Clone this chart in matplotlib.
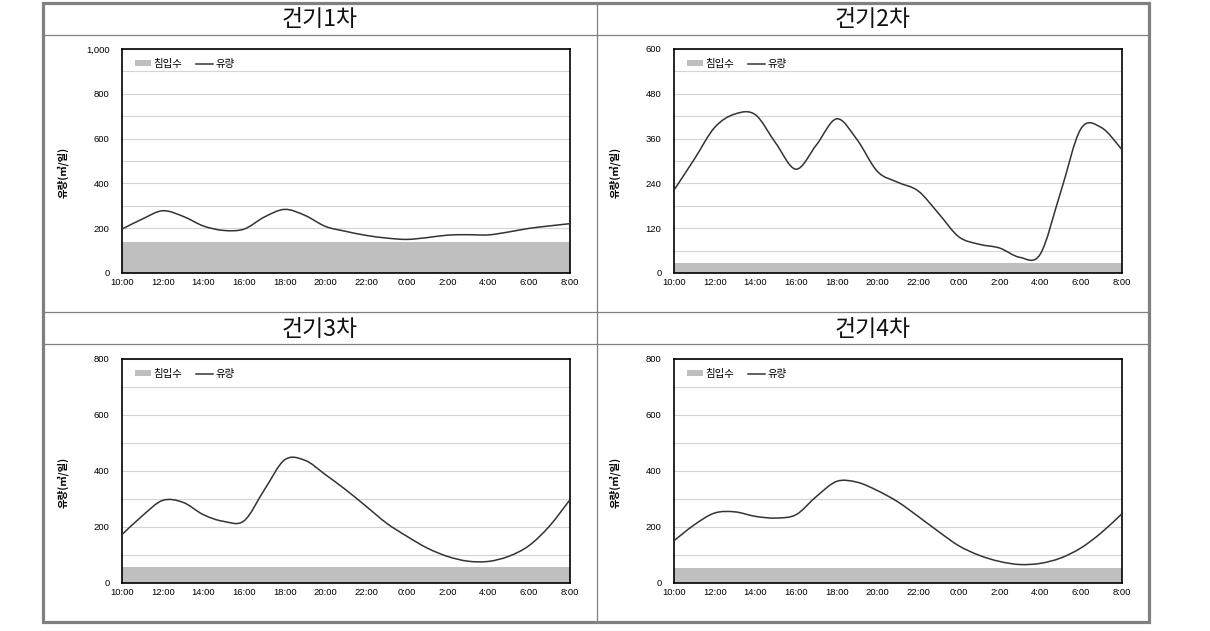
import numpy as np
import matplotlib
matplotlib.use('Agg')
import matplotlib.pyplot as plt
from matplotlib.path import Path
from matplotlib.patches import PathPatch, Patch, Rectangle
from matplotlib.lines import Line2D

plt.rcParams['font.family'] = ['Noto Sans CJK KR', 'DejaVu Sans']

# ---------------- data ----------------
hour_labels = ['10:00', '11:00', '12:00', '13:00', '14:00', '15:00', '16:00', '17:00',
               '18:00', '19:00', '20:00', '21:00', '22:00', '23:00', '0:00', '1:00',
               '2:00', '3:00', '4:00', '5:00', '6:00', '7:00', '8:00']
tick_labels = ['10:00', '12:00', '14:00', '16:00', '18:00', '20:00', '22:00',
               '0:00', '2:00', '4:00', '6:00', '8:00']
titles = ['건기1차', '건기2차', '건기3차', '건기4차']

flow1 = [196, 241, 278, 253, 210, 190, 196, 250, 284, 257, 208, 186, 168, 156, 150, 158,
         169, 171, 170, 183, 199, 210, 220]
flow2 = [222, 305, 390, 426, 424, 348, 278, 343, 413, 357, 272, 243, 220, 160, 97, 77,
         67, 42, 50, 215, 386, 390, 332]
flow3 = [173, 240, 295, 288, 244, 220, 222, 333, 440, 438, 387, 333, 274, 214, 167, 125,
         95, 78, 77, 95, 133, 202, 295]
flow4 = [151, 208, 250, 254, 238, 232, 244, 309, 363, 360, 330, 290, 238, 184, 133, 99,
         77, 66, 70, 89, 125, 179, 246]
infiltration = [137, 27, 58, 53]   # 침입수 (constant level per survey)

flows = [flow1, flow2, flow3, flow4]
y_max = [1000, 600, 800, 800]
y_major = [200, 120, 200, 200]
y_minor = [100, 60, 100, 100]

# ---------------- figure ----------------
W, H = 1210, 631
fig = plt.figure(figsize=(W / 100, H / 100), dpi=100)
fig.patch.set_facecolor('white')

def fx(px):
    return px / W

def fy(py):
    return 1 - py / H

# frame & dividers
gray = '#808080'
fig.add_artist(Line2D([fx(43), fx(1149)], [fy(34.5), fy(34.5)], color=gray, lw=0.9))
fig.add_artist(Line2D([fx(43), fx(1149)], [fy(312.3), fy(312.3)], color=gray, lw=0.9))
fig.add_artist(Line2D([fx(43), fx(1149)], [fy(344.3), fy(344.3)], color=gray, lw=0.9))
fig.add_artist(Line2D([fx(597), fx(597)], [fy(3), fy(621)], color=gray, lw=0.9))
fig.add_artist(Rectangle((fx(42.5), fy(621.5)), fx(1148.5) - fx(42.5), fy(3.3) - fy(621.5),
                         fill=False, edgecolor=gray, lw=2.3, transform=fig.transFigure))

title_pos = [(320, 19.5), (873, 19.5), (320, 329.5), (873, 329.5)]
axes_pos = [(122, 49), (674, 49), (122, 359), (674, 359)]
ax_w, ax_h = 447.5, 224


def smooth_path(x, y):
    pts = np.column_stack([x, y]).astype(float)
    n = len(pts)
    verts = [pts[0]]
    codes = [Path.MOVETO]
    for i in range(n - 1):
        p0 = pts[i - 1] if i > 0 else pts[i]
        p1 = pts[i]
        p2 = pts[i + 1]
        p3 = pts[i + 2] if i + 2 < n else pts[i + 1]
        verts += [p1 + (p2 - p0) / 6, p2 - (p3 - p1) / 6, p2]
        codes += [Path.CURVE4] * 3
    return Path(verts, codes)


x = np.arange(len(hour_labels))
for k in range(4):
    tx, ty = title_pos[k]
    fig.text(fx(tx), fy(ty), titles[k], ha='center', va='center', fontsize=16.5,
             color='#111111')

    left, top = axes_pos[k]
    ax = fig.add_axes([fx(left), fy(top + ax_h), ax_w / W, ax_h / H])
    ax.set_xlim(0, len(hour_labels) - 1)
    ax.set_ylim(0, y_max[k])

    ax.fill_between([x[0], x[-1]], 0, infiltration[k], color='#bfbfbf', lw=0, zorder=1)
    ax.add_patch(PathPatch(smooth_path(x, flows[k]), fill=False, edgecolor='#333333',
                           lw=1.1, zorder=3))

    majors = np.arange(0, y_max[k] + 1, y_major[k])
    minors = np.arange(0, y_max[k] + 1, y_minor[k])
    ax.set_yticks(majors)
    ax.set_yticklabels([f'{v:,}' for v in majors], family='Liberation Sans', fontsize=6.8)
    ax.set_yticks(minors, minor=True)
    ax.set_xticks(x[::2])
    ax.set_xticklabels(tick_labels, family='Liberation Sans', fontsize=6.8)
    ax.tick_params(axis='both', which='both', length=0)
    ax.tick_params(axis='y', pad=9)
    ax.tick_params(axis='x', pad=3.5)
    ax.set_axisbelow(True)
    ax.grid(True, which='both', axis='y', color='#d4d4d4', lw=0.8)
    for s in ax.spines.values():
        s.set_color('black')
        s.set_linewidth(1.2)

    ax.set_ylabel('유량(㎥/일)', fontsize=7.5, fontweight='bold')
    ax.yaxis.set_label_coords(-0.12, 0.45)

    handles = [Patch(facecolor='#bfbfbf', edgecolor='none'),
               Line2D([], [], color='#333333', lw=1.1)]
    ax.legend(handles, ['침입수', '유량'], ncol=2, loc='upper left',
              bbox_to_anchor=(0.028, 0.955), frameon=False, fontsize=7.5,
              handlelength=1.6, handleheight=0.5, handletextpad=0.25,
              columnspacing=1.3, borderaxespad=0, borderpad=0)

fig.savefig('out.png', dpi=100, facecolor='white')
